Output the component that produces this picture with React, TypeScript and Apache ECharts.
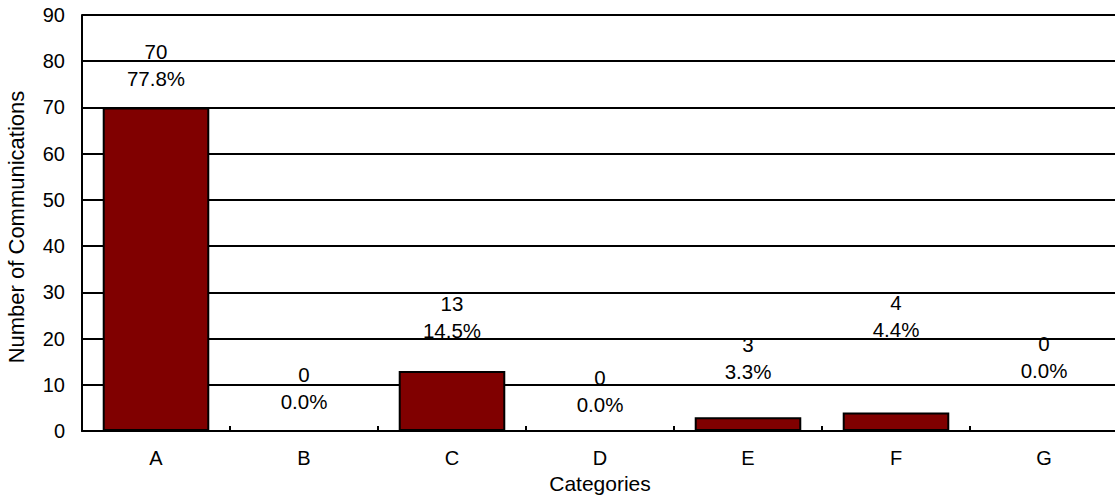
import React, { useEffect, useRef } from "react";
import * as echarts from "echarts";

const categories = ["A", "B", "C", "D", "E", "F", "G"];
const counts = [70, 0, 13, 0, 3, 4, 0];
const percents = ["77.8%", "0.0%", "14.5%", "0.0%", "3.3%", "4.4%", "0.0%"];
const yTicks = { min: 0, max: 90, interval: 10 };
// vertical nudges of each data label (style only)
const labelNudges = [-10, -10, -22, -7, -27, -65, -41];

export default function App() {
  const ref = useRef<HTMLDivElement>(null);
  useEffect(() => {
    if (!ref.current) return;
    const chart = echarts.init(ref.current, null, { renderer: "svg" });
    const font = "'Liberation Sans', Arial, sans-serif";
    chart.setOption({
      animation: false,
      backgroundColor: "#ffffff",
      textStyle: { fontFamily: font },
      grid: {
        left: 82,
        right: -3,
        top: 15,
        bottom: 65,
        containLabel: false,
        outerBoundsMode: "none",
      },
      xAxis: {
        type: "category",
        data: categories,
        name: "Categories",
        nameLocation: "middle",
        nameGap: 42,
        nameTextStyle: { color: "#000", fontSize: 21, fontFamily: font },
        axisLine: { lineStyle: { color: "#000", width: 2 } },
        axisTick: { show: true, inside: true, length: 5, lineStyle: { color: "#000", width: 2 } },
        axisLabel: { color: "#000", fontSize: 20, margin: 17, fontFamily: font },
        splitLine: { show: false },
      },
      yAxis: {
        type: "value",
        min: yTicks.min,
        max: yTicks.max,
        interval: yTicks.interval,
        name: "Number of Communications",
        nameLocation: "middle",
        nameGap: 55,
        nameTextStyle: { color: "#000", fontSize: 22, fontFamily: font, padding: [0, 8, 0, 0] },
        axisLine: { show: true, lineStyle: { color: "#000", width: 2 } },
        axisTick: { show: false },
        axisLabel: { color: "#000", fontSize: 20, margin: 17, fontFamily: font },
        splitLine: { show: true, lineStyle: { color: "#000", width: 2 } },
      },
      series: [
        {
          type: "bar",
          barCategoryGap: "28%",
          data: counts.map((v, i) => ({
            value: v,
            label: { offset: [0, labelNudges[i]] },
          })),
          itemStyle: { color: "#800000", borderColor: "#000", borderWidth: 2 },
          label: {
            show: true,
            position: "top",
            distance: 5,
            color: "#000",
            fontSize: 20.5,
            lineHeight: 27,
            fontFamily: font,
            formatter: (p: any) => `${counts[p.dataIndex]}\n${percents[p.dataIndex]}`,
          },
        },
      ],
    });
    return () => chart.dispose();
  }, []);
  return (
    <div
      ref={ref}
      style={{ position: "absolute", left: 0, top: 0, width: 1115, height: 496 }}
    />
  );
}
